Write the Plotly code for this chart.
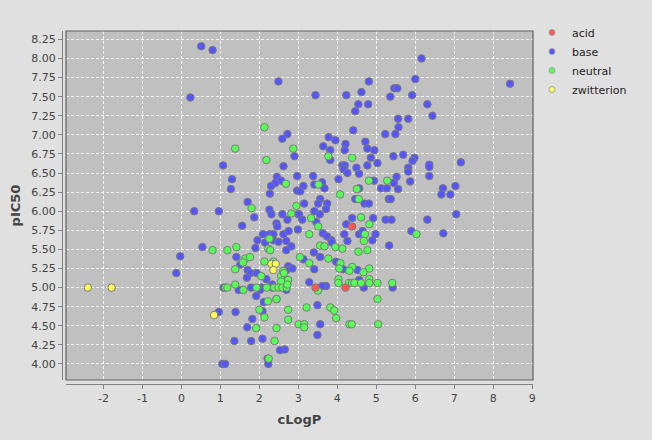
import plotly.graph_objects as go

acid_x = [4.38, 4.21, 3.44]
acid_y = [5.80, 5.00, 5.00]

zwit_x = [-2.40, -1.79, 0.84, 2.31, 2.42, 2.36]
zwit_y = [5.00, 5.00, 4.64, 5.31, 5.31, 5.23]

neutral_x = [2.13, 1.38, 2.87, 2.18, 2.68, 1.80, 2.95, 2.82, 0.80, 1.18, 1.41, 2.23, 2.28, 1.64, 1.76, 1.58,
             2.13, 2.36, 1.38, 2.05, 2.56, 2.56, 2.74, 2.61, 2.63, 1.13, 1.18, 1.38, 1.59, 1.93, 2.19, 2.38,
             2.49, 2.59, 2.70, 2.72, 2.22, 2.44, 2.00, 2.74, 2.13, 2.74, 1.92, 3.01, 2.44, 2.39, 2.24, 2.26,
             3.77, 4.38, 4.81, 5.28, 3.52, 4.50, 4.07, 4.55, 3.33, 3.51, 4.61, 4.82, 3.28, 4.71, 6.03, 4.68,
             3.56, 3.67, 3.95, 4.13, 4.54, 4.77, 3.04, 3.77, 4.08, 3.28, 4.05, 4.38, 4.82, 4.31, 4.67, 4.03,
             4.82, 4.03, 4.30, 4.38, 4.44, 4.61, 4.82, 5.03, 5.41, 3.50, 5.03, 3.21, 3.82, 3.92, 3.97, 3.15,
             3.15, 4.31, 4.37, 5.05]
neutral_y = [7.10, 6.82, 6.82, 6.67, 6.36, 6.04, 6.07, 5.97, 5.49, 5.49, 5.53, 5.51, 5.49, 5.38, 5.40, 5.33,
             5.34, 5.34, 5.24, 5.15, 5.15, 5.08, 5.10, 5.22, 5.19, 5.00, 5.00, 5.04, 4.97, 5.00, 5.00, 5.00,
             5.00, 5.00, 5.00, 5.04, 4.82, 4.85, 4.71, 4.71, 4.61, 4.58, 4.47, 4.52, 4.47, 4.30, 4.07, 5.64,
             6.72, 6.70, 6.40, 6.40, 6.35, 6.29, 6.22, 6.16, 5.91, 5.80, 5.92, 5.83, 5.70, 5.70, 5.70, 5.61,
             5.55, 5.54, 5.53, 5.51, 5.47, 5.49, 5.40, 5.38, 5.32, 5.32, 5.25, 5.27, 5.25, 5.22, 5.20, 5.11,
             5.11, 5.06, 5.06, 5.06, 5.06, 5.06, 5.06, 5.06, 5.06, 4.96, 4.85, 4.74, 4.74, 4.70, 4.60, 4.52,
             4.48, 4.52, 4.52, 4.52]

base_x = [0.51, 0.80, 2.49, 0.23, 2.72, 2.59, 2.90, 1.07, 2.62, 1.30, 2.45, 2.56, 2.41, 2.30, 2.97, 1.27,
          2.27, 2.97, 1.70, 2.26, 2.31, 2.59, 3.00, 0.33, 0.96, 1.87, 2.72, 1.56, 2.44, 2.46, 2.99, 2.09,
          2.26, 2.36, 2.62, 2.75, 1.95, 2.15, 2.36, 2.49, 2.69, 2.82, 0.54, 1.90, 2.69, -0.03, 1.41, 1.51,
          1.70, 1.77, 1.93, 2.74, 2.70, 2.85, -0.13, 1.68, 2.18, 2.33, 1.08, 1.47, 1.79, 2.05, 2.02, 2.33,
          2.69, 1.92, 2.11, 2.44, 2.08, 0.96, 1.39, 1.82, 1.69, 2.08, 1.36, 1.79, 2.65, 2.53, 2.21, 2.23,
          1.05, 1.12,
          6.16, 8.43, 4.81, 6.00, 3.44, 4.23, 4.62, 5.46, 5.54, 5.36, 5.92, 4.54, 4.79, 4.46, 6.31, 6.44,
          5.56, 5.82, 5.57, 4.41, 5.23, 5.49, 3.78, 3.95, 3.64, 4.21, 4.72, 3.82, 4.19, 4.77, 4.95, 3.82,
          4.86, 5.44, 5.69, 5.98, 5.93, 5.03, 4.77, 4.49, 4.13, 4.19, 4.16, 4.26, 4.56, 5.82, 5.82, 6.36,
          6.36, 6.36, 7.17, 3.38, 4.03, 4.94, 5.52, 5.45, 5.87, 3.61, 3.41, 3.13, 3.67, 3.05, 4.56, 5.12,
          5.27, 5.56, 6.71, 7.03, 6.67, 6.90, 3.56, 4.46, 5.32, 5.37,
          3.51, 3.74, 3.15, 3.71, 3.41, 3.55, 3.02, 4.70, 4.81, 3.10, 3.46, 4.38, 4.92, 5.24, 5.39, 6.31,
          7.05, 4.23, 3.63, 3.74, 3.85, 3.86, 4.18, 4.56, 4.65, 4.98, 5.90, 6.72, 4.26, 4.90, 5.33, 3.40,
          3.56, 3.13, 3.97, 4.15, 4.52, 3.41, 4.56, 3.28, 5.42, 4.68, 3.71, 3.61, 3.49, 3.56, 3.49]
base_y = [8.16, 8.11, 7.70, 7.49, 7.01, 6.95, 6.72, 6.60, 6.59, 6.42, 6.45, 6.40, 6.37, 6.33, 6.46, 6.29,
          6.23, 6.27, 6.12, 6.02, 5.96, 5.96, 5.96, 6.00, 6.00, 5.92, 5.89, 5.81, 5.84, 5.80, 5.76, 5.70,
          5.70, 5.70, 5.70, 5.74, 5.62, 5.59, 5.62, 5.60, 5.61, 5.54, 5.53, 5.52, 5.49, 5.41, 5.40, 5.30,
          5.23, 5.19, 5.19, 5.28, 5.23, 5.25, 5.19, 5.13, 5.11, 5.04, 5.00, 4.97, 5.00, 5.00, 4.97, 5.00,
          4.97, 4.89, 4.81, 4.85, 4.69, 4.68, 4.68, 4.59, 4.48, 4.33, 4.30, 4.30, 4.19, 4.18, 4.07, 4.00,
          4.00, 4.00,
          8.00, 7.67, 7.70, 7.73, 7.52, 7.52, 7.56, 7.61, 7.61, 7.50, 7.52, 7.40, 7.40, 7.31, 7.40, 7.25,
          7.21, 7.21, 7.10, 7.06, 7.01, 7.01, 6.97, 6.93, 6.85, 6.88, 6.91, 6.80, 6.80, 6.82, 6.80, 6.67,
          6.70, 6.72, 6.74, 6.70, 6.66, 6.63, 6.60, 6.57, 6.60, 6.60, 6.55, 6.50, 6.49, 6.57, 6.52, 6.61,
          6.58, 6.46, 6.64, 6.46, 6.42, 6.40, 6.45, 6.37, 6.39, 6.38, 6.35, 6.33, 6.30, 6.26, 6.30, 6.30,
          6.30, 6.29, 6.30, 6.33, 6.22, 6.22, 6.16, 6.16, 6.16, 6.16,
          6.10, 6.10, 6.10, 6.03, 6.00, 5.96, 5.96, 6.10, 6.10, 5.89, 5.86, 5.91, 5.91, 5.89, 5.89, 5.89,
          5.96, 5.83, 5.71, 5.67, 5.62, 5.59, 5.70, 5.70, 5.74, 5.70, 5.74, 5.71, 5.61, 5.62, 5.55, 5.46,
          5.40, 5.37, 5.34, 5.24, 5.23, 5.24, 5.10, 5.07, 5.00, 5.00, 5.02, 5.02, 4.77, 4.52, 4.38]

x_ticks = [-2, -1, 0, 1, 2, 3, 4, 5, 6, 7, 8, 9]
y_ticks = [4.00, 4.25, 4.50, 4.75, 5.00, 5.25, 5.50, 5.75, 6.00, 6.25, 6.50, 6.75, 7.00, 7.25, 7.50, 7.75, 8.00, 8.25]

series = [
    ("acid", acid_x, acid_y, "#ff5555"),
    ("base", base_x, base_y, "#5555ff"),
    ("neutral", neutral_x, neutral_y, "#55ff55"),
    ("zwitterion", zwit_x, zwit_y, "#ffff55"),
]
draw_order = [1, 2, 0, 3]

fig = go.Figure()
for i in draw_order:
    name, xs, ys, col = series[i]
    fig.add_trace(go.Scatter(x=xs, y=ys, mode="markers", name=name, showlegend=False,
                             marker=dict(size=7.5, color=col, line=dict(color="#7a7a7a", width=1))))
for name, xs, ys, col in series:
    fig.add_trace(go.Scatter(x=[None], y=[None], mode="markers", name=name, showlegend=True,
                             marker=dict(size=6, color=col, line=dict(color="#a0a0a0", width=1))))

axis_font = dict(family="DejaVu Sans", size=11, color="#444444")
title_font = dict(family="DejaVu Sans", size=13, color="#444444", weight="bold")

W, H = 652, 440
ml, mr, mt, mb = 62, 119, 31, 56
pw = W - ml - mr
ph = H - mt - mb

fig.update_layout(
    template="none",
    width=W, height=H,
    margin=dict(l=ml, r=mr, t=mt, b=mb, pad=0, autoexpand=False),
    paper_bgcolor="#e0e0e0",
    plot_bgcolor="#c0c0c0",
    font=dict(family="DejaVu Sans", color="#444444"),
    xaxis=dict(
        domain=[4 / pw, 1], anchor="free", position=0, automargin=False,
        range=[-2.96, 9.02], tickvals=x_ticks, ticktext=[str(v) for v in x_ticks],
        showgrid=True, gridcolor="#f4f4f4", griddash="3px,2px", gridwidth=1,
        zeroline=False, showline=True, linecolor="#808080", linewidth=1,
        ticks="outside", ticklen=4, tickcolor="#808080", tickfont=axis_font,
        title=dict(text="cLogP", font=title_font, standoff=10),
    ),
    yaxis=dict(
        domain=[4 / ph, 1], anchor="free", position=0, automargin=False,
        range=[3.79, 8.36], tickvals=y_ticks, ticktext=[f"{v:.2f}" for v in y_ticks],
        showgrid=True, gridcolor="#f4f4f4", griddash="3px,2px", gridwidth=1,
        zeroline=False, showline=True, linecolor="#808080", linewidth=1,
        ticks="outside", ticklen=4, tickcolor="#808080", tickfont=axis_font,
        title=dict(text="pIC50", font=title_font, standoff=6),
    ),
    legend=dict(
        x=(532 - ml) / pw, y=1 + 13 / ph, xanchor="left", yanchor="top",
        bgcolor="rgba(0,0,0,0)", font=dict(family="DejaVu Sans", size=11, color="#222222"),
        itemwidth=30, tracegroupgap=0,
    ),
    shapes=[dict(type="rect", xref="x domain", yref="y domain", x0=0, x1=1, y0=0, y1=1,
                 line=dict(color="#606060", width=1.2), fillcolor="rgba(0,0,0,0)", layer="above")],
)

fig.write_html("out.html", config={"displayModeBar": False},
               post_script="document.body.style.margin='0px';document.body.style.background='#e0e0e0';")
